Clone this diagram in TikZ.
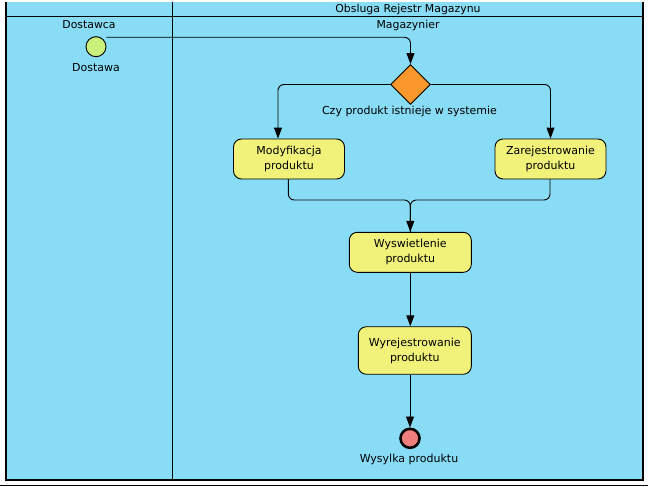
\documentclass[tikz,border=0pt]{standalone}
\usepackage{fontspec}
\setmainfont{DejaVu Sans}
\usetikzlibrary{arrows.meta,shapes.geometric}
\definecolor{poolblue}{RGB}{136,220,245}
\definecolor{taskyellow}{RGB}{240,242,122}
\definecolor{gateorange}{RGB}{250,152,44}
\definecolor{startgreen}{RGB}{200,240,122}
\definecolor{endred}{RGB}{240,126,126}
\definecolor{baseline}{RGB}{150,160,168}
\tikzset{
  lbl/.style={inner sep=0pt, font=\fontsize{11}{14}\selectfont},
  hdr/.style={inner sep=0pt, font=\fontsize{10.9}{12}\selectfont},
  task/.style={draw=black, line width=0.9pt, fill=taskyellow, rounded corners=8pt,
    align=center, inner sep=0pt, font=\fontsize{11}{15}\selectfont},
  flow/.style={draw=black, line width=0.9pt, rounded corners=6pt,
    -{Triangle[length=11pt,width=8pt]}},
  flowplain/.style={draw=black, line width=0.9pt, rounded corners=6pt},
  border/.style={draw=black, line width=1.3pt}
}
\begin{document}
\begin{tikzpicture}[x=1pt,y=-1pt]
\useasboundingbox (0,0) rectangle (648,487);
\fill[white] (0,0) rectangle (648,487);
% pool
\fill[poolblue] (6,2) rectangle (643,480);
\draw[baseline, line width=1.2pt] (0,485.5) -- (648,485.5);
\draw[border] (6,2) -- (6,480) -- (643,480) -- (643,2);
\draw[border] (6,16.5) -- (643,16.5);
\draw[border] (172.5,2) -- (172.5,480);
% headers
\node[hdr] (pooltitle) at (408,9.5) {Obsluga Rejestr Magazynu};
\node[hdr] (laneA) at (89,25) {Dostawca};
\node[hdr] (laneB) at (408,25) {Magazynier};
% nodes
\node[circle, draw=black, line width=0.9pt, fill=startgreen, minimum size=20pt, inner sep=0pt] (start) at (96,46.7) {};
\node[lbl] (startlbl) at (96,68) {Dostawa};
\node[diamond, draw=black, line width=0.9pt, fill=gateorange, minimum width=40pt, minimum height=40pt, inner sep=0pt] (dec) at (410.5,84.5) {};
\node[lbl] (declbl) at (409.5,111.5) {Czy produkt istnieje w systemie};
\node[task, minimum width=111pt, minimum height=40pt] (mod) at (289,159) {Modyfikacja\\produktu};
\node[task, minimum width=111pt, minimum height=40pt] (zar) at (550.5,159) {Zarejestrowanie\\produktu};
\node[task, minimum width=122pt, minimum height=40pt] (wys) at (410.3,252.3) {Wyswietlenie\\produktu};
\node[task, minimum width=113pt, minimum height=47.5pt] (wyr) at (414.8,350.5) {Wyrejestrowanie\\produktu};
\node[circle, draw=black, line width=2.6pt, fill=endred, minimum size=19pt, inner sep=0pt] (stop) at (410,438.3) {};
\node[lbl] (stoplbl) at (409,459) {Wysylka produktu};
% connectors
\draw[flow] ([yshift=9.4pt]start.east) -| (dec.north);
\draw[flow] (dec.west) -| ([xshift=-11pt]mod.north);
\draw[flow] (dec.east) -| (zar.north);
\coordinate (merge) at (410.3,200);
\draw[flowplain] ([xshift=-0.7pt]mod.south) |- (merge) -- (wys.north);
\draw[flow] ([xshift=-0.5pt]zar.south) |- (merge) -- (wys.north);
\draw[flow] (wys.south) -- (wys.south |- wyr.north);
\draw[flow] (wyr.south -| stop.north) -- (stop.north);
\end{tikzpicture}
\end{document}
